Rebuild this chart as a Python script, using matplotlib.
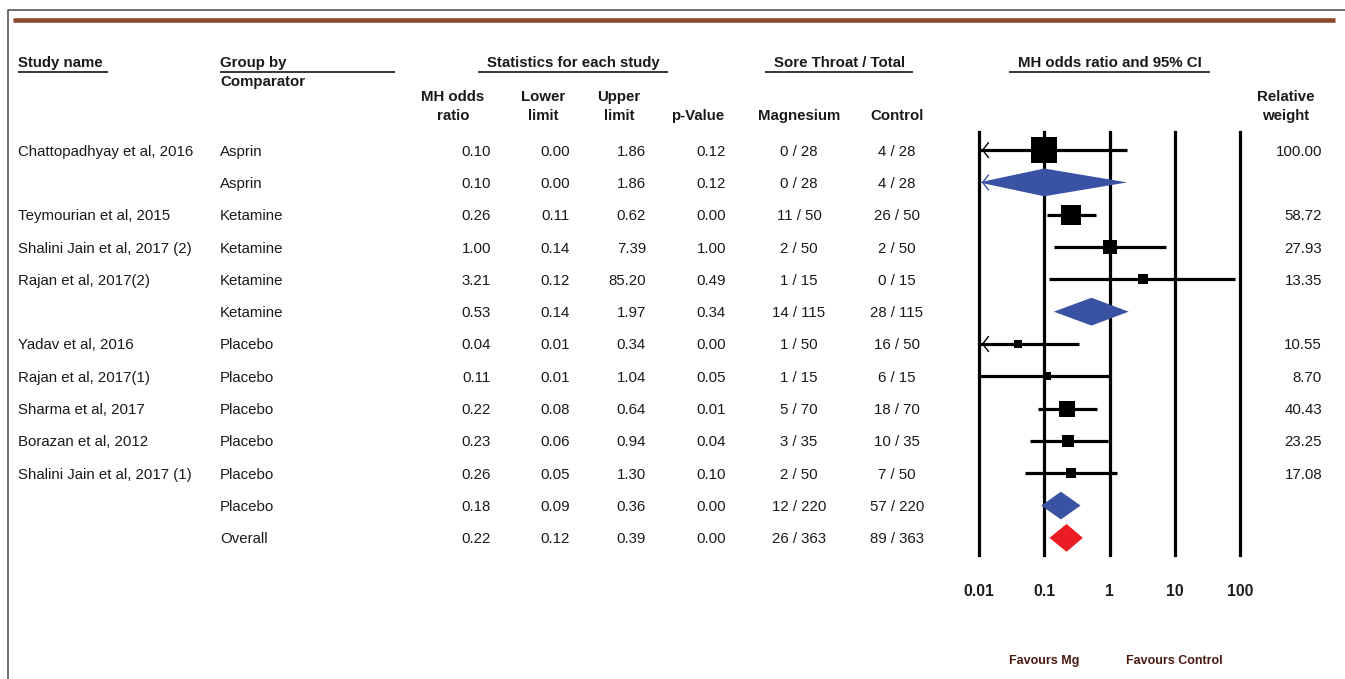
import numpy as np
import matplotlib
matplotlib.use("Agg")
import matplotlib.pyplot as plt
import matplotlib.transforms as mtransforms
from matplotlib.lines import Line2D
from matplotlib.patches import Polygon

plt.rcParams['font.family'] = ['Liberation Sans', 'DejaVu Sans']

W, H = 1345, 679

# Rows of the meta-analysis table (studies, subgroup totals, overall)
studies = ["Chattopadhyay et al, 2016", "", "Teymourian et al, 2015",
           "Shalini Jain et al, 2017 (2)", "Rajan et al, 2017(2)", "",
           "Yadav et al, 2016", "Rajan et al, 2017(1)", "Sharma et al, 2017",
           "Borazan et al, 2012", "Shalini Jain et al, 2017 (1)", "", ""]
groups = ["Asprin", "Asprin", "Ketamine", "Ketamine", "Ketamine", "Ketamine",
          "Placebo", "Placebo", "Placebo", "Placebo", "Placebo", "Placebo", "Overall"]
odds = [0.10, 0.10, 0.26, 1.00, 3.21, 0.53, 0.04, 0.11, 0.22, 0.23, 0.26, 0.18, 0.22]
lower = [0.00, 0.00, 0.11, 0.14, 0.12, 0.14, 0.01, 0.01, 0.08, 0.06, 0.05, 0.09, 0.12]
upper = [1.86, 1.86, 0.62, 7.39, 85.20, 1.97, 0.34, 1.04, 0.64, 0.94, 1.30, 0.36, 0.39]
p_values = [0.12, 0.12, 0.00, 1.00, 0.49, 0.34, 0.00, 0.05, 0.01, 0.04, 0.10, 0.00, 0.00]
magnesium = ["0 / 28", "0 / 28", "11 / 50", "2 / 50", "1 / 15", "14 / 115", "1 / 50",
             "1 / 15", "5 / 70", "3 / 35", "2 / 50", "12 / 220", "26 / 363"]
control = ["4 / 28", "4 / 28", "26 / 50", "2 / 50", "0 / 15", "28 / 115", "16 / 50",
           "6 / 15", "18 / 70", "10 / 35", "7 / 50", "57 / 220", "89 / 363"]
weights = [100.00, None, 58.72, 27.93, 13.35, None, 10.55, 8.70, 40.43, 23.25, 17.08, None, None]
row_kind = ["study", "subtotal", "study", "study", "study", "subtotal", "study",
            "study", "study", "study", "study", "subtotal", "overall"]
# CI runs off the left end of the scale
off_scale = [True, True, False, False, False, False, True, False, False, False, False, False, False]

ticks = [0.01, 0.1, 1, 10, 100]
tick_labels = ["0.01", "0.1", "1", "10", "100"]

BLUE = "#3A52A4"
RED = "#EC1C24"
TXT = "#1a1a1a"
XMIN = 0.01
FS = 10.8

fig = plt.figure(figsize=(W / 100, H / 100), dpi=100)

# forest plot panel
ax = fig.add_axes([979 / W, 1 - 555 / H, 261 / W, 423 / H])
ax.set_xscale('log')
ax.set_xlim(0.01, 100)
ax.set_ylim(12.53, -0.56)
ax.axis('off')

for t in ticks:
    ax.axvline(t, color='black', lw=2.3, clip_on=False, zorder=1)

chev = dict(arrowstyle='->,head_length=0.35,head_width=0.45', lw=1.0, mutation_scale=12)

for i, kind in enumerate(row_kind):
    lo = max(lower[i], XMIN)
    if kind == "study":
        ax.plot([lo, upper[i]], [i, i], color='black', lw=2.3,
                solid_capstyle='butt', zorder=2)
        ms = 1.87 * np.sqrt(weights[i])
        ax.plot(odds[i], i, marker='s', ms=ms, color='black', mew=0, zorder=3)
        color = 'black'
    else:
        color = RED if kind == "overall" else BLUE
        d = Polygon([(lo, i), (odds[i], i - 0.43), (upper[i], i), (odds[i], i + 0.43)],
                    closed=True, facecolor=color, edgecolor='none', zorder=3)
        ax.add_patch(d)
    if off_scale[i]:
        ax.annotate('', xy=(XMIN, i), xytext=(XMIN * 1.3, i),
                    arrowprops=dict(color=color, **chev), zorder=4)

for t, lab in zip(ticks, tick_labels):
    ax.text(t, 13.67, lab, ha='center', va='center', fontsize=11.3,
            fontweight='bold', color=TXT, clip_on=False)

fav_color = "#4A1A10"
ax.text(0.1, 15.8, "Favours Mg", ha='center', va='center', fontsize=9,
        fontweight='bold', color=fav_color)
ax.text(10, 15.8, "Favours Control", ha='center', va='center', fontsize=9,
        fontweight='bold', color=fav_color)

# table columns share the row positions of the forest panel
trans = mtransforms.blended_transform_factory(fig.transFigure, ax.transData)
trans = trans + mtransforms.ScaledTranslation(0, -1.5 / 100, fig.dpi_scale_trans)


def put(x, y, s, ha='left'):
    fig.text(x / W, y, s, transform=trans, ha=ha, va='center', fontsize=FS, color=TXT)


for i in range(len(row_kind)):
    put(18, i, studies[i])
    put(220, i, groups[i])
    put(491, i, f"{odds[i]:.2f}", 'right')
    put(570, i, f"{lower[i]:.2f}", 'right')
    put(646, i, f"{upper[i]:.2f}", 'right')
    put(726, i, f"{p_values[i]:.2f}", 'right')
    put(799, i, magnesium[i], 'center')
    put(897, i, control[i], 'center')
    if weights[i] is not None:
        put(1322, i, f"{weights[i]:.2f}", 'right')


def head(x, y, s, ha='center'):
    fig.text(x / W, 1 - y / H, s, ha=ha, va='center', fontsize=FS,
             fontweight='bold', color=TXT, linespacing=1.45)


def rule(x0, x1, y, color='black', lw=1.1):
    fig.add_artist(Line2D([x0 / W, x1 / W], [1 - y / H] * 2, color=color, lw=lw,
                          solid_capstyle='butt'))


head(18, 63, "Study name", 'left')
rule(18, 108, 72)
head(220, 63, "Group by", 'left')
rule(220, 395, 72)
head(220, 82, "Comparator", 'left')
head(573, 63, "Statistics for each study")
rule(478, 668, 72)
head(840, 63, "Sore Throat / Total")
rule(765, 913, 72)
head(1110, 63, "MH odds ratio and 95% CI")
rule(1009, 1210, 72)

head(453, 106.5, "MH odds\nratio")
head(543, 106.5, "Lower\nlimit")
head(619, 106.5, "Upper\nlimit")
head(698, 116, "p-Value")
head(799, 116, "Magnesium")
head(897, 116, "Control")
head(1286, 106.5, "Relative\nweight")

# page frame and brown band
fig.add_artist(Line2D([8 / W, 8 / W, 1], [0, 1 - 10 / H, 1 - 10 / H],
                      color='#555555', lw=1.2))
rule(13, 1335, 20, color='#8B4A2B', lw=3.3)

fig.savefig("out.png", dpi=100)
